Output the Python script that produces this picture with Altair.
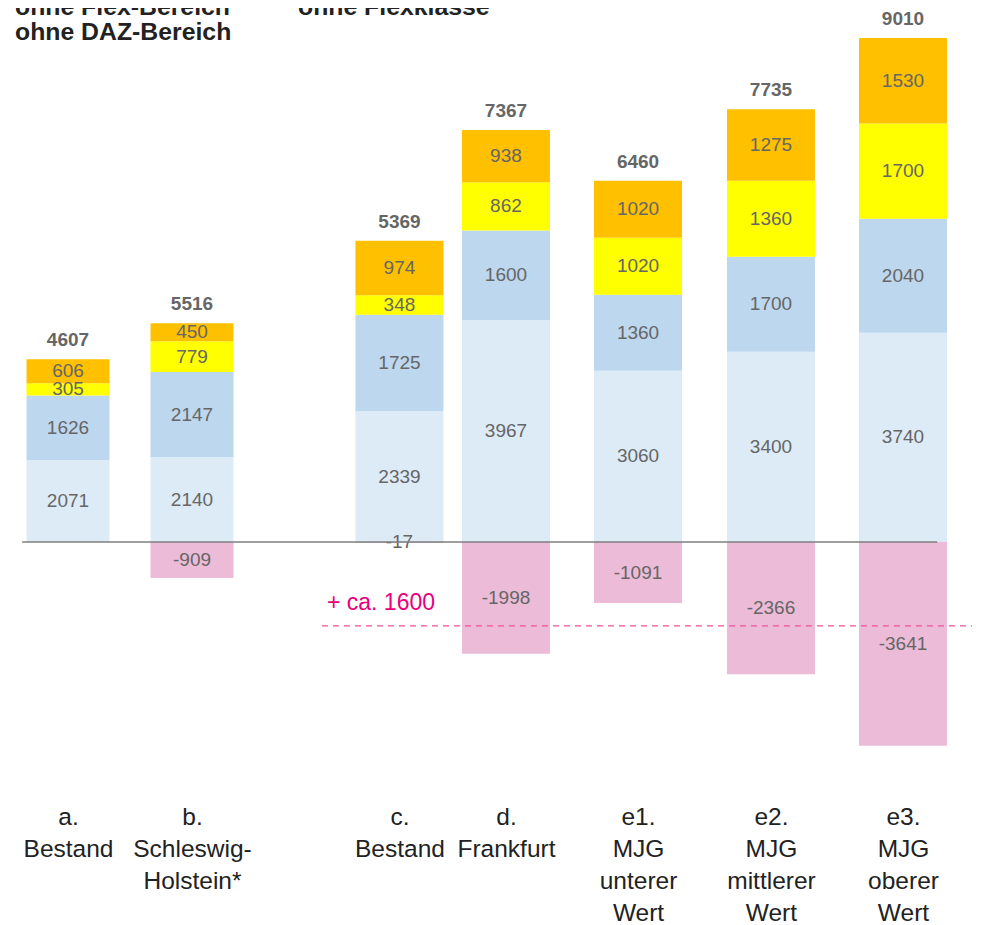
import json
import altair as alt
import pandas as pd

# ---------------- data ----------------
categories = ["a", "b", "c", "d", "e1", "e2", "e3"]
cat_labels = [
    ["a.", "Bestand"],
    ["b.", "Schleswig-", "Holstein*"],
    ["c.", "Bestand"],
    ["d.", "Frankfurt"],
    ["e1.", "MJG", "unterer", "Wert"],
    ["e2.", "MJG", "mittlerer", "Wert"],
    ["e3.", "MJG", "oberer", "Wert"],
]
group = [0, 0, 1, 1, 1, 1, 1]
s1 = [2071, 2140, 2339, 3967, 3060, 3400, 3740]
s2 = [1626, 2147, 1725, 1600, 1360, 1700, 2040]
s3 = [305, 779, 348, 862, 1020, 1360, 1700]
s4 = [606, 450, 974, 938, 1020, 1275, 1530]
neg = [0, -909, -17, -1998, -1091, -2366, -3641]
totals = [4607, 5516, 5369, 7367, 6460, 7735, 9010]
annotation_text = "+ ca. 1600"
annotation_level = -1500
titles_left = ["ohne Flex-Bereich", "ohne DAZ-Bereich"]
title_right = "ohne Flexklasse"

# ---------------- layout ----------------
slots = [0, 1, 2.673, 3.532, 4.597, 5.669, 6.734]
X_DOMAIN = [-0.4839, 7.3226]
W, H = 968, 762
Y_LEFT = [-5750, 13468]
Y_RIGHT = [-4076, 9546]
FONT = "Liberation Sans"

series_names = ["s1", "s2", "s3", "s4", "neg"]
series_colors = ["#DDEBF7", "#BDD7EE", "#FFFF00", "#FFC000", "#EBBBD7"]

rows = []
for i, c in enumerate(categories):
    for k, (name, vals) in enumerate(zip(series_names, [s1, s2, s3, s4, neg])):
        v = vals[i]
        if v == 0:
            continue
        rows.append(dict(cat=c, slot=slots[i], grp=group[i], series=name, ord=k, value=v))
seg = pd.DataFrame(rows)
tops = [a + b + c + d for a, b, c, d in zip(s1, s2, s3, s4)]
tot = pd.DataFrame(dict(cat=categories, slot=slots, grp=group, total=totals, top=tops))

label_expr = ""
for sl, lines in zip(slots, cat_labels):
    label_expr += f"abs(datum.value - {sl}) < 0.01 ? {json.dumps(lines)} : "
label_expr += "''"

x_axis = alt.Axis(values=slots, labelExpr=label_expr, domain=False, ticks=False, tickSize=0,
                  grid=False, labelFontSize=24.5, labelFont=FONT, labelColor="#222222",
                  labelLineHeight=32, labelPadding=35, labelOverlap=False, labelFlush=False,
                  labelBaseline="top", title=None)
x_scale = alt.Scale(domain=X_DOMAIN, nice=False, zero=False, padding=0)


def xenc(field):
    return alt.X(f"{field}:Q", scale=x_scale, axis=x_axis)


def group_layer(g, ydomain, barsize, extra=()):
    segd = seg[seg.grp == g]
    totd = tot[tot.grp == g]
    ysc = alt.Scale(domain=ydomain, nice=False, zero=False, padding=0)
    bars = alt.Chart(segd).mark_bar(size=barsize).encode(
        x=xenc("slot"),
        y=alt.Y("value:Q", stack="zero", scale=ysc, axis=None),
        color=alt.Color("series:N", scale=alt.Scale(domain=series_names, range=series_colors), legend=None),
        order=alt.Order("ord:Q"),
    )
    labels = alt.Chart(segd).transform_stack(
        stack="value", groupby=["cat"], sort=[alt.SortField(field="ord", order="ascending")], as_=["y0", "y1"]
    ).transform_calculate(
        mid="(datum.y0 + datum.y1) / 2", lbl="'' + datum.value"
    ).mark_text(
        fontSize=19, color="#666666", font=FONT, baseline="middle"
    ).encode(
        x=xenc("slot"),
        y=alt.Y("mid:Q", scale=ysc, axis=None),
        text="lbl:N",
    )
    tot_t = alt.Chart(totd).mark_text(
        fontSize=19, fontWeight="bold", color="#666666", font=FONT, dy=-19, baseline="middle"
    ).encode(
        x=xenc("slot"),
        y=alt.Y("top:Q", scale=ysc, axis=None),
        text=alt.Text("total:Q", format="d"),
    )
    extra_layers = [e(ysc) for e in extra]
    return alt.layer(bars, labels, tot_t, *extra_layers)


def zero_line(ysc):
    return alt.Chart(pd.DataFrame({"x1": [-0.37], "x2": [7.01], "y": [0]})).mark_rule(
        color="#7f7f7f", strokeWidth=1.3
    ).encode(x=xenc("x1"), x2="x2:Q", y=alt.Y("y:Q", scale=ysc, axis=None))


def dashed_line(ysc):
    return alt.Chart(pd.DataFrame({"x1": [2.048], "x2": [7.29], "y": [annotation_level]})).mark_rule(
        color="#F0509B", strokeWidth=1.3, strokeDash=[6, 5]
    ).encode(x=xenc("x1"), x2="x2:Q", y=alt.Y("y:Q", scale=ysc, axis=None))


def annot(ysc):
    return alt.Chart(pd.DataFrame({"x": [2.524], "y": [-1090], "t": [annotation_text]})).mark_text(
        fontSize=23, color="#E6007E", font=FONT, baseline="middle"
    ).encode(x=xenc("x"), y=alt.Y("y:Q", scale=ysc, axis=None), text="t:N")


left = group_layer(0, Y_LEFT, 83)
right = group_layer(1, Y_RIGHT, 88, extra=(zero_line, dashed_line, annot))


def title_text(txt, xpx, ypx):
    return alt.Chart(pd.DataFrame({"t": [txt]})).mark_text(
        align="left", baseline="alphabetic", fontSize=24.8, fontWeight="bold", color="#222222", font=FONT
    ).encode(x=alt.value(xpx), y=alt.value(ypx), text="t:N")


titles = [
    title_text(titles_left[0], 7, 7),
    title_text(titles_left[1], 7, 32),
    title_text(title_right, 290, 7),
]

chart = alt.layer(left, right, *titles).resolve_scale(y="independent").properties(
    width=W, height=H,
    padding={"left": 0, "top": 0, "right": 0, "bottom": 154},
    autosize=alt.AutoSizeParams(type="none"),
).configure_view(stroke=None)

chart.save("out.html", embed_options={"renderer": "svg", "actions": False})
